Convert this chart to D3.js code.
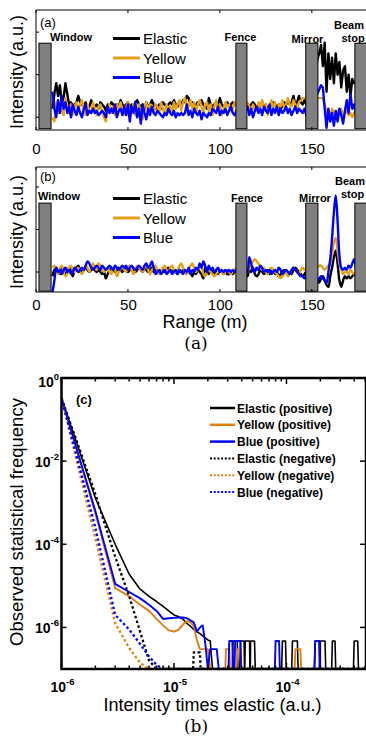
<!DOCTYPE html>
<html><head><meta charset="utf-8">
<script src="https://cdn.jsdelivr.net/npm/d3@7/dist/d3.min.js"></script>
<style>
body{margin:0;background:#fff}
svg{display:block}
text{font-family:Arial,"Liberation Sans",sans-serif;fill:#000}
</style>
</head><body>
<svg id="chart" width="366" height="736"></svg>
<script>
// ---------------- DATA ----------------
// Range samples (m) for panels (a) and (b)
const rangeM = d3.range(9, 175);
const rangeTicks = [0, 50, 100, 150];

// Panel (a) traces (arbitrary units)
const elasticA = [
0.2,0.55,0.8,0.5,0.75,0.35,0.45,0.8, 0.55,0.3,0.35,0.25,0.3,0.35,0.5,0.35,
0.3,0.25,0.35,0.2,0.25,0.4,0.3,0.25, 0.3,0.2,0.35,0.3,0.25,0.15,0.3,0.25,
0.35,0.3,0.2,0.3,0.25,0.4,0.3,0.25, 0.3,0.35,0.2,0.3,0.25,0.35,0.4,0.3,
0.25,0.3,0.2,0.35,0.25,0.3,0.4,0.3, 0.2,0.25,0.3,0.2,0.35,0.3,0.25,0.3,
0.35,0.3,0.4,0.3,0.25,0.35,0.3,0.4, 0.35,0.5,0.45,0.3,0.35,0.25,0.3,0.35,
0.3,0.4,0.3,0.25,0.2,0.45,0.3,0.25, 0.3,0.35,0.3,0.45,0.3,0.25,0.3,0.35,
0.25,0.3,0.35,0.3,0.3,0.25,0.3,0.3, 0.3,0.35,0.3,0.25,0.3,0.35,0.3,0.2,
0.25,0.3,0.35,0.25,0.3,0.2,0.25,0.3, 0.35,0.3,0.25,0.3,0.2,0.25,0.35,0.3,
0.4,0.3,0.35,0.5,0.3,0.35,0.5,0.35, 0.3,0.4,0.3,0.35,0.3,0.4,0.7,1.1,
1.35,1.5,1.7,1.2,1.75,0.6,1.5,0.9, 1.4,0.8,1.5,1.0,1.3,0.7,1.1,1.2,
0.6,1.0,0.5,0.9,0.8,0.8];
const yellowA = [
0.0,-0.1,0.35,0.1,0.3,0.15,0.05,0.45, 0.2,0.1,0.3,0.05,0.25,0.35,0.15,0.3,
0.4,0.2,0.05,0.3,0.15,0.1,0.35,0.2, 0.05,0.25,0.3,0.1,0.0,-0.1,0.2,0.3,
0.1,0.25,0.05,0.3,0.2,0.35,0.15,0.05, 0.25,0.35,0.1,0.2,0.3,0.05,0.15,0.3,
0.1,-0.05,0.25,0.35,0.15,0.3,0.2,0.1, 0.3,0.25,0.1,0.35,0.2,0.05,0.3,0.15,
0.25,0.1,0.35,0.2,0.3,0.4,0.15,0.35, 0.45,0.3,0.25,0.4,0.2,0.35,0.1,0.3,
0.4,0.25,0.1,0.3,0.35,0.15,0.3,0.05, 0.25,0.4,0.15,0.3,0.05,0.2,0.35,0.25,
0.3,0.15,0.2,0.35,0.3,0.2,0.3,0.25, 0.3,0.2,0.35,0.25,0.1,0.3,0.2,0.15,
0.35,0.25,0.4,0.2,0.3,0.05,0.25,0.4, 0.2,0.35,0.15,0.3,0.25,0.4,0.2,0.3,
0.45,0.3,0.25,0.4,0.3,0.2,0.35,0.4, 0.45,0.45,0.45,0.45,0.45,0.45,0.45,0.45,
0.45,0.45,0.45,0.45,0.3,0.1,0.15,0.05, 0.2,0.1,0.05,0.15,0.1,0.2,0.05,0.1,
0.15,0.05,0.1,0.0,0.1,0.1];
const blueA = [
0.6,0.2,0.0,0.4,0.1,0.5,0.2,0.35, 0.1,0.25,0.0,0.3,0.15,0.05,0.25,0.1,
0.0,0.2,0.3,0.05,0.15,0.1,0.2,0.1, 0.15,0.05,0.1,0.15,0.1,0.0,0.25,0.1,
0.2,0.1,0.3,0.0,0.15,0.2,0.05,0.25, 0.05,0.3,-0.1,0.25,0.1,0.35,0.0,0.2,
-0.15,0.3,0.1,-0.05,0.2,0.05,0.25,0.1, 0.05,0.15,0.1,0.05,0.0,0.1,0.05,0.2,
0.1,0.05,0.15,0.0,0.1,0.05,0.1,0.05, 0.1,0.3,0.05,0.15,0.0,0.2,0.1,0.05,
0.15,-0.05,0.1,0.05,0.0,0.1,0.05,0.2, 0.15,0.1,0.25,0.05,0.15,0.1,0.2,0.05,
0.15,0.25,0.1,0.05,0.15,0.1,0.2,0.15, 0.1,0.2,0.25,0.05,0.2,0.0,0.15,0.25,
0.1,0.2,0.05,0.25,0.15,0.1,0.3,0.05, 0.2,0.1,0.25,0.05,0.2,0.1,0.15,0.25,
0.1,0.2,0.05,0.15,0.25,0.1,0.2,0.15, 0.1,0.2,0.05,0.15,0.1,0.2,0.4,0.6,
0.55,0.65,0.75,0.7,0.2,-0.25,0.2,-0.1, 0.1,-0.2,0.15,-0.1,0.2,0.05,-0.15,0.15,
0.4,0.1,0.55,0.2,0.3,0.1];

// Panel (b) traces (arbitrary units)
const elasticB = [
-0.1,0.05,0.1,0.0,-0.05,0.1,0.05,-0.05, 0.0,0.1,0.05,-0.1,0.05,0.1,0.15,0.05,
0.0,0.05,0.1,0.05,0.0,0.05,0.1,0.05, 0.0,0.05,0.0,-0.05,0.0,-0.15,-0.05,0.05,
0.1,0.05,0.0,0.05,0.1,0.05,0.0,0.1, 0.05,0.0,0.05,0.1,0.05,0.0,0.05,0.1,
0.05,0.0,0.1,0.05,0.0,0.05,0.1,0.0, 0.05,0.0,-0.05,0.0,0.05,0.0,0.05,0.1,
0.05,0.0,0.05,0.0,-0.05,0.05,0.0,0.05, 0.0,-0.05,0.05,0.0,-0.1,0.0,-0.05,0.05,
0.0,-0.05,-0.15,0.1,0.0,-0.05,0.05,0.0, -0.05,0.0,-0.05,0.05,0.0,-0.05,0.0,-0.05,
-0.05,0.0,-0.05,0.0,0.0,-0.05,-0.05,0.0, 0.0,-0.05,-0.1,0.05,0.0,0.1,-0.05,-0.1,
-0.05,0.05,0.0,-0.05,0.0,0.05,-0.05,0.0, 0.05,-0.05,0.0,-0.1,-0.05,0.0,0.05,0.0,
-0.05,0.0,-0.05,0.05,0.1,0.05,0.0,-0.05, -0.1,-0.05,0.0,-0.05,-0.1,-0.1,-0.15,-0.2,
-0.2,-0.25,-0.15,-0.1,-0.2,-0.3,-0.35,-0.1, 0.1,0.35,0.5,0.2,-0.2,-0.35,-0.2,-0.1,
-0.15,-0.1,-0.15,-0.1,-0.05,-0.1];
const yellowB = [
0.1,0.15,0.05,-0.05,0.1,0.15,0.0,-0.1, -0.05,0.1,0.15,0.05,0.0,0.05,0.1,0.0,
-0.05,0.05,0.15,0.1,0.0,0.1,0.2,0.1, 0.05,0.2,0.15,0.05,0.0,0.05,0.1,0.0,
-0.05,0.1,0.05,-0.1,0.0,0.1,0.15,0.05, 0.0,0.1,0.15,0.05,-0.05,0.05,0.15,0.1,
0.05,0.0,0.1,0.15,0.05,-0.05,0.05,0.1, 0.15,0.05,-0.05,0.05,0.1,0.15,0.05,0.0,
0.1,0.15,0.05,0.0,0.05,0.15,0.2,0.1, 0.0,-0.05,0.05,0.15,0.2,0.1,0.0,0.05,
0.15,0.1,-0.05,-0.1,0.0,0.1,0.0,-0.05, -0.1,-0.05,0.0,0.05,0.0,-0.05,0.0,0.05,
0.0,-0.05,0.0,0.05,0.1,0.05,0.0,0.05, 0.1,0.05,0.0,0.1,0.2,0.25,0.3,0.25,
0.2,0.1,0.05,0.1,0.0,-0.05,0.05,0.1, 0.05,0.0,-0.05,-0.1,-0.15,-0.1,-0.05,0.0,
-0.1,-0.05,0.05,0.1,0.05,0.0,-0.05,0.05, 0.1,0.05,0.1,0.1,0.1,0.1,0.1,0.1,
0.1,0.15,0.15,0.1,0.05,0.1,0.15,0.2, 0.4,0.7,0.8,0.5,0.2,0.05,-0.05,0.0,
0.0,-0.05,0.05,0.0,-0.05,0.0];
const blueB = [
-0.47,-0.2,0.1,0.0,0.05,-0.05,0.05,0.1, 0.0,0.05,-0.05,0.0,0.1,0.05,0.0,0.05,
0.1,0.05,0.15,0.25,0.2,0.1,0.05,0.1, 0.15,0.1,0.05,0.15,0.1,0.05,0.1,0.15,
0.1,0.05,0.15,0.1,0.05,0.1,0.15,0.1, 0.15,0.05,0.1,0.15,0.1,0.05,0.1,0.15,
0.1,0.05,0.15,0.2,0.1,0.15,0.25,0.1, -0.05,0.0,0.05,-0.05,0.0,0.05,-0.05,0.0,
0.05,-0.05,0.0,0.05,-0.05,0.05,0.0,-0.05, 0.05,0.0,0.1,-0.05,0.05,0.0,0.1,0.05,
0.2,0.1,0.25,0.15,0.0,0.15,0.05,0.1, 0.0,0.05,0.1,0.0,0.05,0.0,0.05,0.0,
0.05,0.0,0.05,0.0,0.05,0.05,0.0,0.05, 0.1,0.05,0.0,0.35,0.2,0.05,0.0,0.1,
0.05,0.15,0.1,0.0,0.05,0.0,0.05,-0.05, 0.0,0.05,0.0,0.1,0.05,-0.05,0.0,0.05,
0.0,-0.05,0.05,0.1,0.05,0.0,-0.05,-0.1, -0.1,-0.15,-0.1,-0.1,-0.15,-0.1,-0.1,-0.15,
-0.2,-0.15,-0.1,-0.15,-0.2,-0.25,0.0,0.3, 0.8,1.4,1.8,1.2,0.4,0.1,0.05,0.1,
0.05,0.15,0.1,0.2,0.3,0.1];

const seriesNamesAB = ["Elastic", "Yellow", "Blue"];

// Obstacles along the range (m)
const obstacleNames = ["Window", "Fence", "Mirror", "Beam stop"];
const obstacleStart = [1.6, 108.7, 146.7, 173.4];
const obstacleEnd   = [8.2, 114.7, 153.3, 186];

// Panel (c): histograms (intensity, frequency); 0 = empty bin
const elasticPosX = [1e-6,2e-6,3e-6,4e-6,5e-6,6e-6,7e-6,8e-6,9e-6,1e-5,1.1e-5,1.2e-5,1.3e-5,1.4e-5,1.5e-5,1.6e-5,1.7e-5,1.8e-5,1.9e-5,2e-5,2.1e-5,2.2e-5];
const elasticPosY = [0.33,1.3e-3,1.0e-4,1.9e-5,8.3e-6,5.6e-6,4.2e-6,3.2e-6,2.5e-6,2.0e-6,1.8e-6,1.6e-6,1.26e-6,1.07e-6,8.9e-7,7.9e-7,7.1e-7,6.3e-7,5.6e-7,5.0e-7,4.7e-7,0];
const elasticPosSpikes = [[3.35e-5,3.65e-5,4.7e-7],[3.9e-5,4.2e-5,4.7e-7],[4.3e-5,4.7e-5,4.7e-7],[4.8e-5,5.2e-5,4.7e-7],[9.2e-5,9.8e-5,4.7e-7],[1.13e-4,1.25e-4,4.7e-7],[1.8e-4,1.97e-4,4.7e-7],[2.0e-4,2.2e-4,4.7e-7],[2.56e-4,2.7e-4,4.7e-7],[4.0e-4,4.3e-4,4.7e-7]];

const yellowPosX = [1e-6,2e-6,3e-6,4e-6,5e-6,6e-6,7e-6,8e-6,9e-6,1e-5,1.1e-5,1.2e-5,1.3e-5,1.4e-5,1.5e-5,1.6e-5,1.7e-5,1.8e-5,1.9e-5,2e-5,2.1e-5];
const yellowPosY = [0.33,5.6e-4,8.9e-6,5.6e-6,3.5e-6,2.5e-6,1.6e-6,1.12e-6,8.5e-7,7.9e-7,8.9e-7,1.17e-6,1.41e-6,1.35e-6,1.07e-6,5.0e-7,3.0e-7,3.0e-7,3.0e-7,3.0e-7,0];
const yellowPosSpikes = [[2.9e-5,3.1e-5,3.0e-7],[3.66e-5,3.9e-5,3.0e-7],[1.2e-4,1.33e-4,3.0e-7]];

const bluePosX = [1e-6,2e-6,3e-6,4e-6,5e-6,6e-6,7e-6,8e-6,9e-6,1e-5,1.1e-5,1.2e-5,1.3e-5,1.4e-5,1.5e-5,1.6e-5,1.7e-5,1.8e-5,1.9e-5,2e-5,2.1e-5,2.2e-5,2.3e-5,2.4e-5,2.5e-5];
const bluePosY = [0.33,6.3e-4,1.12e-5,7.1e-6,5.0e-6,3.5e-6,2.5e-6,1.6e-6,1.66e-6,1.7e-6,1.74e-6,1.74e-6,1.66e-6,1.48e-6,1.32e-6,7.9e-7,1.0e-6,1.12e-6,4.0e-7,0,3.0e-7,3.0e-7,3.0e-7,3.0e-7,0];
const bluePosSpikes = [[3.1e-5,3.3e-5,4.7e-7],[3.5e-5,3.9e-5,4.7e-7],[8.0e-5,8.6e-5,4.7e-7],[1.8e-4,1.95e-4,4.7e-7]];

const elasticNegX = [1e-6,2e-6,3e-6,4e-6,5e-6,6e-6,7e-6];
const elasticNegY = [0.33,1.6e-3,5.0e-5,5.6e-6,7.9e-7,1.6e-7,0];
const elasticNegSpikes = [[1.5e-5,1.7e-5,2.5e-7]];

const yellowNegX = [1e-6,2e-6,3e-6,4e-6,5e-6,6e-6];
const yellowNegY = [0.33,1.4e-4,1.26e-6,3.2e-7,1.4e-7,0];

const blueNegX = [1e-6,2e-6,3e-6,4e-6,5e-6,6e-6,7e-6,8e-6];
const blueNegY = [0.33,2.5e-4,2.0e-6,8.9e-7,4.0e-7,2.0e-7,1.26e-7,0];

const legendC = ["Elastic (positive)","Yellow (positive)","Blue (positive)","Elastic (negative)","Yellow (negative)","Blue (negative)"];
const xTicksC = [1e-6, 1e-5, 1e-4];
const xTickExpC = ["-6", "-5", "-4"];
const yTicksC = [1, 1e-2, 1e-4, 1e-6];
const yTickExpC = ["0", "-2", "-4", "-6"];

// ---------------- DRAW ----------------
const svg = d3.select("#chart");
const COLORS_AB = ["#000000", "#E6A118", "#0000FF"];
const COLORS_C = ["#000000", "#E07F0E", "#0000FF"];

const xR = d3.scaleLinear().domain([0, 180]).range([36, 367]);

function rangePanel(cfg) {
  const y = d3.scaleLinear().domain(cfg.yDomain).range([cfg.bottom, cfg.top]);
  const g = svg.append("g");
  const clipId = "clip" + cfg.id;
  svg.append("clipPath").attr("id", clipId).append("rect")
    .attr("x", 36).attr("y", cfg.top).attr("width", 330).attr("height", cfg.bottom - cfg.top);

  const line = d3.line().x((d, i) => xR(rangeM[i])).y(d => y(d)).curve(cfg.curve);
  const lg = g.append("g").attr("clip-path", `url(#${clipId})`);
  cfg.series.forEach((s, i) => {
    lg.append("path").attr("d", line(s)).attr("fill", "none")
      .attr("stroke", COLORS_AB[i]).attr("stroke-width", 2.4).attr("stroke-linejoin", "round");
  });

  // obstacles
  obstacleNames.forEach((n, i) => {
    g.append("rect")
      .attr("x", xR(obstacleStart[i])).attr("width", xR(obstacleEnd[i]) - xR(obstacleStart[i]))
      .attr("y", y(cfg.rectTop)).attr("height", y(cfg.rectBottom) - y(cfg.rectTop))
      .attr("fill", "#808080").attr("stroke", "#000").attr("stroke-width", 1);
  });
  cfg.labels.forEach(l => {
    g.append("text").attr("x", l.x).attr("y", l.y).attr("text-anchor", l.a || "middle")
      .attr("font-size", 11).attr("font-weight", "bold").text(l.t);
  });

  // frame (right edge lies outside the picture)
  g.append("path").attr("d", `M367,${cfg.top}H36V${cfg.bottom}H367`)
    .attr("fill", "none").attr("stroke", "#000").attr("stroke-width", 1);
  // ticks
  rangeTicks.forEach(t => {
    g.append("line").attr("x1", xR(t)).attr("x2", xR(t)).attr("y1", cfg.bottom).attr("y2", cfg.bottom - 3).attr("stroke", "#000");
    g.append("line").attr("x1", xR(t)).attr("x2", xR(t)).attr("y1", cfg.top).attr("y2", cfg.top + 3).attr("stroke", "#000");
    g.append("text").attr("x", xR(t) + 0.5).attr("y", cfg.bottom + cfg.tickGap).attr("text-anchor", "middle")
      .attr("font-size", 15).text(t);
  });
  [0, 1, 2].forEach(t => {
    g.append("line").attr("x1", 36).attr("x2", 39).attr("y1", y(t)).attr("y2", y(t)).attr("stroke", "#000");
  });
  // legend
  seriesNamesAB.forEach((n, i) => {
    const ly = cfg.legendY + i * 19.5;
    g.append("line").attr("x1", 113).attr("x2", 140).attr("y1", ly).attr("y2", ly)
      .attr("stroke", COLORS_AB[i]).attr("stroke-width", 3);
    g.append("text").attr("x", 143).attr("y", ly + 5.5).attr("font-size", 15).text(n);
  });
  g.append("text").attr("x", 40).attr("y", cfg.tagY).attr("font-size", 13).text(cfg.tag);
  g.append("text").attr("transform", `translate(23,${cfg.labelY}) rotate(-90)`)
    .attr("text-anchor", "middle").attr("font-size", 18).text("Intensity (a.u.)");
}

rangePanel({
  id: "a", top: 10, bottom: 130, yDomain: [-0.3, 2.52], curve: d3.curveLinear,
  series: [elasticA, yellowA, blueA], rectTop: 1.74, rectBottom: -0.27,
  legendY: 38.5, tag: "(a)", tagY: 27, labelY: 72, tickGap: 24,
  labels: [{t: "Window", x: 50, y: 41, a: "start"}, {t: "Fence", x: 240.5, y: 41},
           {t: "Mirror", x: 307.5, y: 43}, {t: "Beam", x: 349, y: 29}, {t: "stop", x: 353, y: 42}]
});
rangePanel({
  id: "b", top: 167, bottom: 292, yDomain: [-0.47, 2.47], curve: d3.curveCatmullRom.alpha(0.5),
  series: [elasticB, yellowB, blueB], rectTop: 1.62, rectBottom: -0.45,
  legendY: 198.5, tag: "(b)", tagY: 181, labelY: 232, tickGap: 18,
  labels: [{t: "Window", x: 38, y: 200, a: "start"}, {t: "Fence", x: 247, y: 202},
           {t: "Mirror", x: 315, y: 202}, {t: "Beam", x: 335, y: 185, a: "start"}, {t: "stop", x: 341, y: 198, a: "start"}]
});
svg.append("text").attr("x", 205).attr("y", 328).attr("text-anchor", "middle").attr("font-size", 18).text("Range (m)");
svg.append("text").attr("x", 196).attr("y", 349).attr("text-anchor", "middle")
  .style("font-family", '"DejaVu Serif","Liberation Serif",serif').attr("font-size", 17).text("(a)");

// ---------- Panel (c) ----------
const xC = d3.scaleLog().domain([1e-6, 5e-4]).range([61.5, 365.1]);
const yC = d3.scaleLog().domain([1e-7, 1]).range([669, 378]).clamp(true);
const cTop = 378, cBottom = 669, cLeft = 61.5, cRight = 366;

function buildSeries(xs, ys, spikes) {
  const pts = xs.map((x, i) => [x, ys[i]]);
  (spikes || []).forEach(s => {
    pts.push([s[0] * 0.985, 0], [s[0], s[2]], [s[1], s[2]], [s[1] * 1.015, 0]);
  });
  pts.push([5e-4, 0]);
  pts.sort((a, b) => a[0] - b[0]);
  return pts;
}
const seriesC = [
  {pts: buildSeries(elasticPosX, elasticPosY, elasticPosSpikes), c: 0, dash: null, w: 1.6},
  {pts: buildSeries(yellowPosX, yellowPosY, yellowPosSpikes), c: 1, dash: null, w: 1.9},
  {pts: buildSeries(bluePosX, bluePosY, bluePosSpikes), c: 2, dash: null, w: 1.9},
  {pts: buildSeries(elasticNegX, elasticNegY, elasticNegSpikes), c: 0, dash: "2.5,2.5", w: 2.3},
  {pts: buildSeries(yellowNegX, yellowNegY), c: 1, dash: "2.5,2.5", w: 2.3},
  {pts: buildSeries(blueNegX, blueNegY), c: 2, dash: "2.5,2.5", w: 2.3}
];
svg.append("clipPath").attr("id", "clipc").append("rect")
  .attr("x", cLeft).attr("y", cTop).attr("width", cRight - cLeft).attr("height", cBottom - cTop);
const lineC = d3.line().x(d => xC(d[0])).y(d => yC(Math.max(d[1], 1e-7)));
const gc = svg.append("g").attr("clip-path", "url(#clipc)");
seriesC.forEach(s => {
  gc.append("path").attr("d", lineC(s.pts)).attr("fill", "none")
    .attr("stroke", COLORS_C[s.c]).attr("stroke-width", s.w)
    .attr("stroke-dasharray", s.dash).attr("stroke-linejoin", "round");
});

// frame
svg.append("rect").attr("x", cLeft).attr("y", cTop).attr("width", cRight - cLeft).attr("height", cBottom - cTop)
  .attr("fill", "none").attr("stroke", "#000").attr("stroke-width", 2.5);

// x ticks (major + minor), top and bottom, inward
const minorX = [];
[1e-6, 1e-5, 1e-4].forEach(d => { for (let k = 2; k <= 9; k++) if (d * k <= 5e-4) minorX.push(d * k); });
minorX.forEach(v => {
  svg.append("line").attr("x1", xC(v)).attr("x2", xC(v)).attr("y1", cBottom).attr("y2", cBottom - 3.5).attr("stroke", "#000").attr("stroke-width", 1.5);
  svg.append("line").attr("x1", xC(v)).attr("x2", xC(v)).attr("y1", cTop).attr("y2", cTop + 3.5).attr("stroke", "#000").attr("stroke-width", 1.5);
});
xTicksC.forEach((v, i) => {
  svg.append("line").attr("x1", xC(v)).attr("x2", xC(v)).attr("y1", cBottom).attr("y2", cBottom - 6).attr("stroke", "#000").attr("stroke-width", 1.5);
  svg.append("line").attr("x1", xC(v)).attr("x2", xC(v)).attr("y1", cTop).attr("y2", cTop + 6).attr("stroke", "#000").attr("stroke-width", 1.5);
  const t = svg.append("text").attr("x", xC(v) + 1).attr("y", 692).attr("text-anchor", "middle")
    .attr("font-size", 14).attr("font-weight", "bold");
  t.append("tspan").text("10");
  t.append("tspan").attr("dy", -7).attr("font-size", 9.5).text(xTickExpC[i]);
});
yTicksC.forEach((v, i) => {
  if (v < 1) {
    svg.append("line").attr("x1", cLeft).attr("x2", cLeft + 5).attr("y1", yC(v)).attr("y2", yC(v)).attr("stroke", "#000").attr("stroke-width", 1.5);
    svg.append("line").attr("x1", cRight).attr("x2", cRight - 6).attr("y1", yC(v)).attr("y2", yC(v)).attr("stroke", "#000").attr("stroke-width", 1.5);
  }
  const t = svg.append("text").attr("x", 59).attr("y", Math.max(yC(v) + 6, 387)).attr("text-anchor", "end")
    .attr("font-size", 14).attr("font-weight", "bold");
  t.append("tspan").text("10");
  t.append("tspan").attr("dy", -7).attr("font-size", 9.5).text(yTickExpC[i]);
});

// legend (c)
legendC.forEach((n, i) => {
  const ly = 408 + i * 16.8;
  const s = seriesC[i];
  svg.append("line").attr("x1", 210).attr("x2", 235).attr("y1", ly).attr("y2", ly)
    .attr("stroke", COLORS_C[s.c]).attr("stroke-width", s.dash ? 2 : 2.5)
    .attr("stroke-dasharray", s.dash ? "2,1.7" : null);
  svg.append("text").attr("x", 237).attr("y", ly + 4.5).attr("font-size", 12).attr("font-weight", "bold").text(n);
});
svg.append("text").attr("x", 76).attr("y", 404).attr("font-size", 13).attr("font-weight", "bold").text("(c)");

svg.append("text").attr("transform", "translate(23,522) rotate(-90)").attr("text-anchor", "middle")
  .attr("font-size", 18.5).text("Observed statistical frequency");
svg.append("text").attr("x", 212.5).attr("y", 711).attr("text-anchor", "middle")
  .attr("font-size", 18).text("Intensity times elastic (a.u.)");
svg.append("text").attr("x", 196).attr("y", 732).attr("text-anchor", "middle")
  .style("font-family", '"DejaVu Serif","Liberation Serif",serif').attr("font-size", 17).text("(b)");
</script>
</body></html>
